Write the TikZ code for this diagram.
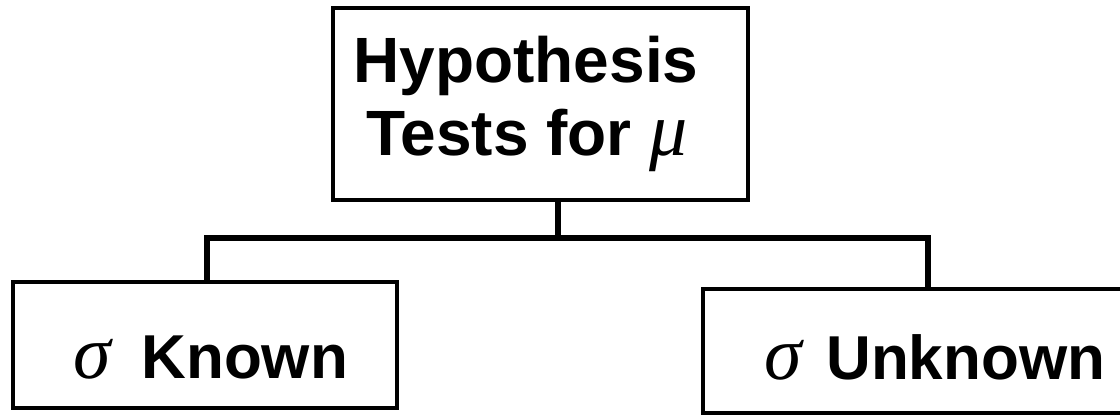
\documentclass[tikz,border=0pt]{standalone}
\usepackage{fontspec}
\setmainfont{Liberation Sans}
\newfontfamily\greekfont{Liberation Serif}
\newcommand{\gk}[1]{{\greekfont\mdseries\itshape\fontsize{76}{80}\selectfont #1}}
\begin{document}
\begin{tikzpicture}[x=1pt,y=-1pt,
  box/.style={draw=black,line width=4pt,rectangle,inner sep=0pt,fill=white},
  label/.style={inner sep=0pt,anchor=base,font=\bfseries\fontsize{64}{72}\selectfont},
  conn/.style={draw=black,line width=6.5pt,line join=miter}]
  \clip (0,0) rectangle (1120,415);
  \useasboundingbox (0,0) rectangle (1120,415);

  % boxes
  \node[box,minimum width=415pt,minimum height=192pt] (top) at (540.5,104) {};
  \node[box,minimum width=384pt,minimum height=126pt] (left) at (205,345) {};
  \node[box,minimum width=447pt,minimum height=124pt] (right) at (926.5,351) {};

  % texts
  \node[label] (t1) at (526,82) {Hypothesis};
  \node[label] (t2) at (527,155) {Tests for \gk{μ}};
  \node[label,font=\bfseries\fontsize{62}{70}\selectfont] (lt) at (211,378) {\gk{σ}\hspace{30pt}Known};
  \node[label,font=\bfseries\fontsize{62}{70}\selectfont] (rt) at (935,379) {\gk{σ}\hspace{24pt}Unknown};

  % connectors
  \coordinate (junction) at (558,238);
  \coordinate (lj) at (207,238);
  \coordinate (rj) at (928,238);
  \draw[conn] (junction |- top.south) -- (junction);
  \draw[conn] (lj |- left.north) -- (lj) -- (rj) -- (rj |- right.north);
\end{tikzpicture}
\end{document}
